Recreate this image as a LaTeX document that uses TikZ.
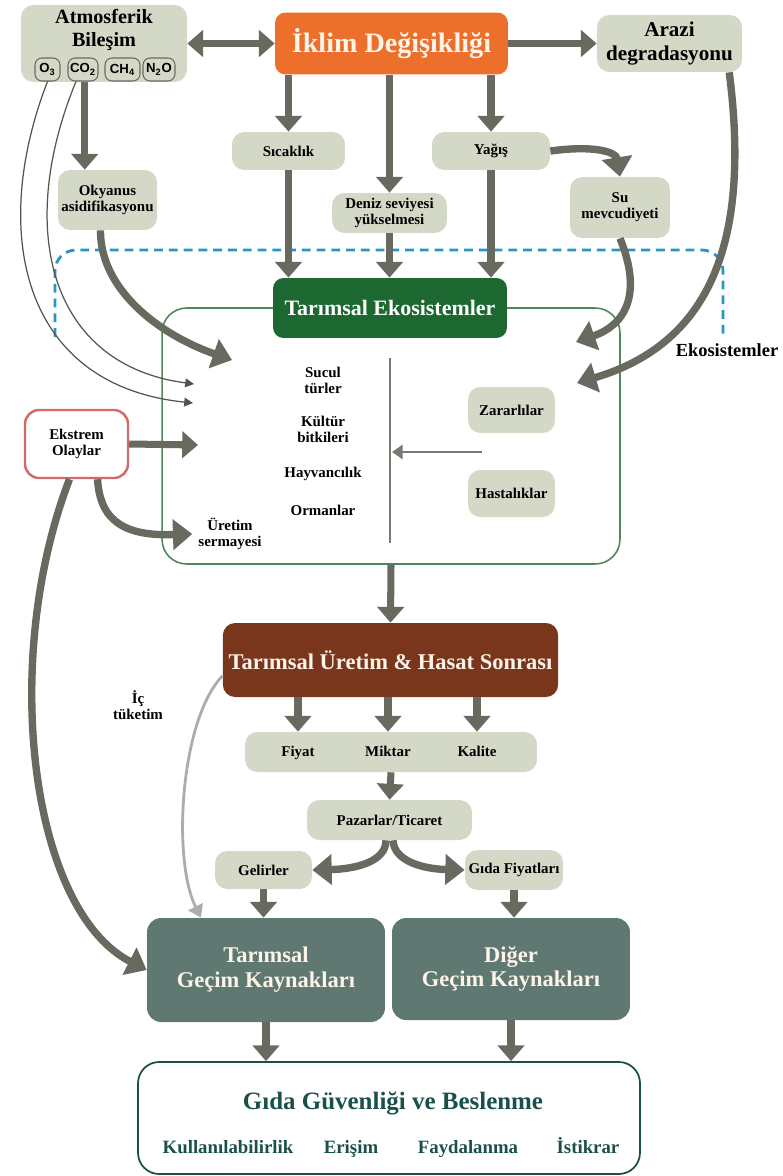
\documentclass[tikz,border=0pt]{standalone}
\usepackage{fontspec}
\setmainfont{Liberation Serif}
\newfontfamily\gasfont{Liberation Sans}
\usepackage{xcolor}
\usepackage{tikz}
\usetikzlibrary{arrows.meta,calc,positioning}
\definecolor{sage}{RGB}{212,216,198}
\definecolor{arrowgray}{RGB}{104,106,96}
\definecolor{orangeclim}{RGB}{236,112,44}
\definecolor{ecogreen}{RGB}{28,104,48}
\definecolor{ecoline}{RGB}{80,135,90}
\definecolor{dashblue}{RGB}{40,150,195}
\definecolor{brownprod}{RGB}{122,54,28}
\definecolor{slate}{RGB}{96,120,114}
\definecolor{tealtext}{RGB}{25,80,72}
\definecolor{redline}{RGB}{212,105,105}
\definecolor{creamtext}{RGB}{252,244,232}
\newcommand{\fntSmall}{\fontsize{8.5}{9.2}\selectfont\bfseries}
\newcommand{\fntMid}{\fontsize{11.5}{13.6}\selectfont\bfseries}
\newcommand{\fntArazi}{\fontsize{12}{14}\selectfont\bfseries}
\newcommand{\fntHuge}{\fontsize{16}{18}\selectfont\bfseries}
\newcommand{\fntBig}{\fontsize{12.5}{14}\selectfont\bfseries}
\newcommand{\fntProd}{\fontsize{12.8}{14}\selectfont\bfseries}
\newcommand{\fntGecim}{\fontsize{12.8}{14.2}\selectfont\bfseries}
\newcommand{\fntGida}{\fontsize{14.2}{16}\selectfont\bfseries}
\newcommand{\fntPillar}{\fontsize{10.7}{12}\selectfont\bfseries}
\newcommand{\fntLabel}{\fontsize{10.5}{12}\selectfont\bfseries}

\begin{document}
\begin{tikzpicture}[x=0.02cm,y=-0.02cm,align=center]
    \tikzset{
        sagebox/.style={
            fill=sage,
            rounded corners=7pt,
            inner sep=0pt,
            font=\fntSmall
        },
        gasbox/.style={
            draw=arrowgray,
            line width=0.6pt,
            fill=sage,
            rounded corners=4pt,
            inner sep=0pt,
            minimum height=0.46cm,
            font=\gasfont\bfseries\fontsize{7.5}{8}\selectfont
        },
        pillar/.style={
            text=tealtext,
            font=\fntPillar,
            anchor=base
        },
        bigarrow/.style={
            draw=arrowgray,
            line width=4pt,
            -{Triangle[width=15pt,length=9pt]}
        },
        curvearrow/.style={
            draw=arrowgray,
            line width=4.2pt,
            -{Triangle[width=17pt,length=11pt]}
        },
        thinarrow/.style={
            draw=arrowgray!80!black,
            line width=0.7pt,
            -{Triangle[width=5pt,length=5pt]}
        }
    }
    \useasboundingbox (0,0) rectangle (782,1176);

    % Top row
    \node[sagebox, minimum width=3.32cm, minimum height=1.54cm] (atmos) at (104,43.5) {};
    \node[font=\fntMid] (atmostitle) at (104,30) {Atmosferik\\Bileşim};
    \node[gasbox, minimum width=0.5cm] (o3) at (47.5,69.5) {O\textsubscript{3}};
    \node[gasbox, minimum width=0.6cm] (co2) at (83,69.5) {CO\textsubscript{2}};
    \node[gasbox, minimum width=0.7cm] (ch4) at (122.5,69.5) {CH\textsubscript{4}};
    \node[gasbox, minimum width=0.64cm] (n2o) at (159,69.5) {N\textsubscript{2}O};

    \node[fill=orangeclim, rounded corners=6pt, minimum width=4.66cm, minimum height=1.24cm,
        text=creamtext, font=\fntHuge] (climate) at (391.5,43.5) {İklim Değişikliği};
    \node[sagebox, minimum width=2.9cm, minimum height=1.14cm, font=\fntArazi] (arazi) at (669.5,43.5) {Arazi\\degradasyonu};

    % Climate effects
    \node[sagebox, minimum width=2.26cm, minimum height=0.76cm] (sicaklik) at (288.5,151) {Sıcaklık};
    \node[sagebox, minimum width=2.36cm, minimum height=0.76cm] (yagis) at (491,151) {Yağış};
    \node[sagebox, minimum width=1.98cm, minimum height=1.2cm] (okyanus) at (107.5,200) {Okyanus\\asidifikasyonu};
    \node[sagebox, minimum width=2.3cm, minimum height=0.8cm] (deniz) at (389.5,213) {Deniz seviyesi\\yükselmesi};
    \node[sagebox, minimum width=2.0cm, minimum height=1.22cm] (su) at (620,207.5) {Su\\mevcudiyeti};

    % Ecosystems
    \draw[dashblue, line width=1.6pt, dash pattern=on 5pt off 3.4pt, rounded corners=12pt]
        (55,337) -- (55,250) -- (723,250) -- (723,337);
    \node[font=\fntLabel] (ekolabel) at (727,350) {Ekosistemler};

    \node[draw=ecoline, line width=0.9pt, rounded corners=14pt, minimum width=9.16cm,
        minimum height=5.12cm] (ecobox) at (391,436) {};
    \node[fill=ecogreen, rounded corners=6pt, minimum width=4.68cm, minimum height=1.2cm,
        text=white, font=\fntBig] (ecotitle) at (390,308) {Tarımsal Ekosistemler};

    \node[font=\fntSmall] (sucul) at (323,380) {Sucul\\türler};
    \node[font=\fntSmall] (kultur) at (323,429) {Kültür\\bitkileri};
    \node[font=\fntSmall] (hayvan) at (323,474) {Hayvancılık};
    \node[font=\fntSmall] (orman) at (323,510) {Ormanlar};
    \node[font=\fntSmall] (sermaye) at (230,534) {Üretim\\sermayesi};

    \coordinate (vtop) at (390,358);
    \coordinate (vbot) at (390,543);
    \draw[line width=1.3pt, draw=arrowgray!90] (vtop) -- (vbot);

    \node[sagebox, minimum width=1.74cm, minimum height=0.92cm] (zarar) at (511.5,410) {Zararlılar};
    \node[sagebox, minimum width=1.74cm, minimum height=0.94cm] (hastalik) at (511.5,493.5) {Hastalıklar};
    \coordinate (pdstart) at (482,452);
    \coordinate (pdend) at (392,452);
    \draw[draw=arrowgray!90, line width=1.2pt, -{Triangle[width=8pt,length=6pt]}] (pdstart) -- (pdend);

    \node[draw=redline, line width=1.4pt, fill=white, rounded corners=8pt, minimum width=2.06cm,
        minimum height=1.36cm, font=\fntSmall] (ekstrem) at (76.5,444) {Ekstrem\\Olaylar};

    % Production and markets
    \node[fill=brownprod, rounded corners=7pt, minimum width=6.66cm, minimum height=1.48cm,
        text=creamtext, font=\fntProd] (uretim) at (390.5,660) {Tarımsal Üretim \& Hasat Sonrası};
    \node[font=\fntSmall] (ictuketim) at (138,705) {İç\\tüketim};

    \node[sagebox, minimum width=5.84cm, minimum height=0.8cm] (fmk) at (391,752) {};
    \node[font=\fntSmall, anchor=base] (fiyat) at (298,756) {Fiyat};
    \node[font=\fntSmall, anchor=base] (miktar) at (388,756) {Miktar};
    \node[font=\fntSmall, anchor=base] (kalite) at (477,756) {Kalite};

    \node[sagebox, minimum width=3.3cm, minimum height=0.8cm] (pazar) at (389.5,820) {Pazarlar/Ticaret};
    \node[sagebox, minimum width=1.94cm, minimum height=0.76cm] (gelir) at (263.5,870) {Gelirler};
    \node[sagebox, minimum width=1.96cm, minimum height=0.8cm] (gidafiyat) at (514,870) {Gıda Fiyatları};

    % Livelihoods
    \node[fill=slate, rounded corners=8pt, minimum width=4.76cm, minimum height=2.08cm,
        text=creamtext, font=\fntGecim] (tgecim) at (266,970) {Tarımsal\\Geçim Kaynakları};
    \node[fill=slate, rounded corners=8pt, minimum width=4.76cm, minimum height=2.04cm,
        text=creamtext, font=\fntGecim] (dgecim) at (511,969) {Diğer\\Geçim Kaynakları};

    % Food security
    \node[draw=tealtext, line width=1pt, rounded corners=12pt, minimum width=10.04cm,
        minimum height=2.24cm] (gida) at (389,1118) {};
    \node[text=tealtext, font=\fntGida] (gidatitle) at (393,1103) {Gıda Güvenliği ve Beslenme};
    \node[pillar] (kullan) at (228,1153) {Kullanılabilirlik};
    \node[pillar] (erisim) at (351,1153) {Erişim};
    \node[pillar] (faydalan) at (468,1153) {Faydalanma};
    \node[pillar] (istikrar) at (588,1153) {İstikrar};

    % Arrows, top
    \draw[bigarrow, {Triangle[width=15pt,length=9pt]}-{Triangle[width=15pt,length=9pt]}] (atmos.east) -- (climate.west);
    \draw[bigarrow] (climate.east) -- (arazi.west);
    \draw[bigarrow] (sicaklik.north |- climate.south) -- (sicaklik.north);
    \draw[bigarrow] (deniz.north |- climate.south) -- (deniz.north);
    \draw[bigarrow] (yagis.north |- climate.south) -- (yagis.north);
    \draw[bigarrow] ([xshift=1pt]co2.south) -- ([xshift=1pt]co2.south |- okyanus.north);
    \draw[curvearrow] (yagis.east) .. controls (595,145) and (616,152) .. (su.north);

    % Arrows into ecosystems
    \draw[bigarrow] (sicaklik.south) -- (sicaklik.south |- ecotitle.north);
    \draw[bigarrow] (deniz.south) -- (deniz.south |- ecotitle.north);
    \draw[bigarrow] (yagis.south) -- (yagis.south |- ecotitle.north);

    \coordinate (okin) at (232,360);
    \coordinate (suin) at (576,342);
    \coordinate (arazin) at (577,383);
    \coordinate (o3in) at (193,403);
    \coordinate (co2in) at (194,384);
    \coordinate (ekin) at (198,445);
    \draw[curvearrow] ([xshift=-4pt]okyanus.south) .. controls (100,290) and (160,335) .. (okin);
    \draw[curvearrow] (su.south) .. controls (643,295) and (625,325) .. (suin);
    \draw[curvearrow] ([xshift=34pt]arazi.south) .. controls (752,250) and (705,345) .. (arazin);
    \draw[thinarrow] (o3.south) .. controls (-10,230) and (20,385) .. (o3in);
    \draw[thinarrow] ([xshift=-4pt]co2.south) .. controls (15,230) and (50,365) .. (co2in);
    \draw[bigarrow] (ekstrem.east) -- (ekin);
    \draw[curvearrow] ([xshift=12pt]ekstrem.south) .. controls (100,525) and (130,536) .. (sermaye.west);
    \draw[curvearrow] ([xshift=-4pt]ekstrem.south) .. controls (0,660) and (30,910) .. (tgecim.west);

    % Arrows, production chain
    \draw[bigarrow] (ecobox.south) -- (uretim.north);
    \draw[bigarrow] (fiyat |- uretim.south) -- (fiyat |- fmk.north);
    \draw[bigarrow] (miktar |- uretim.south) -- (miktar |- fmk.north);
    \draw[bigarrow] (kalite |- uretim.south) -- (kalite |- fmk.north);
    \draw[bigarrow] (fmk.south) -- (pazar.north);
    \draw[curvearrow] ([xshift=-2pt]pazar.south) .. controls (386,862) and (355,869) .. (gelir.east);
    \draw[curvearrow] ([xshift=2pt]pazar.south) .. controls (394,862) and (425,869) .. (gidafiyat.west);
    \draw[bigarrow] (gelir.south) -- (gelir.south |- tgecim.north);
    \draw[bigarrow] (gidafiyat.south) -- (gidafiyat.south |- dgecim.north);
    \draw[draw=gray!65, line width=1.6pt, -{Triangle[width=9pt,length=7pt]}]
        ([yshift=-9pt]uretim.west) .. controls (180,720) and (172,860) .. ([xshift=-37pt]tgecim.north);
    \draw[bigarrow] (tgecim.south) -- (tgecim.south |- gida.north);
    \draw[bigarrow] (dgecim.south) -- (dgecim.south |- gida.north);
\end{tikzpicture}
\end{document}
